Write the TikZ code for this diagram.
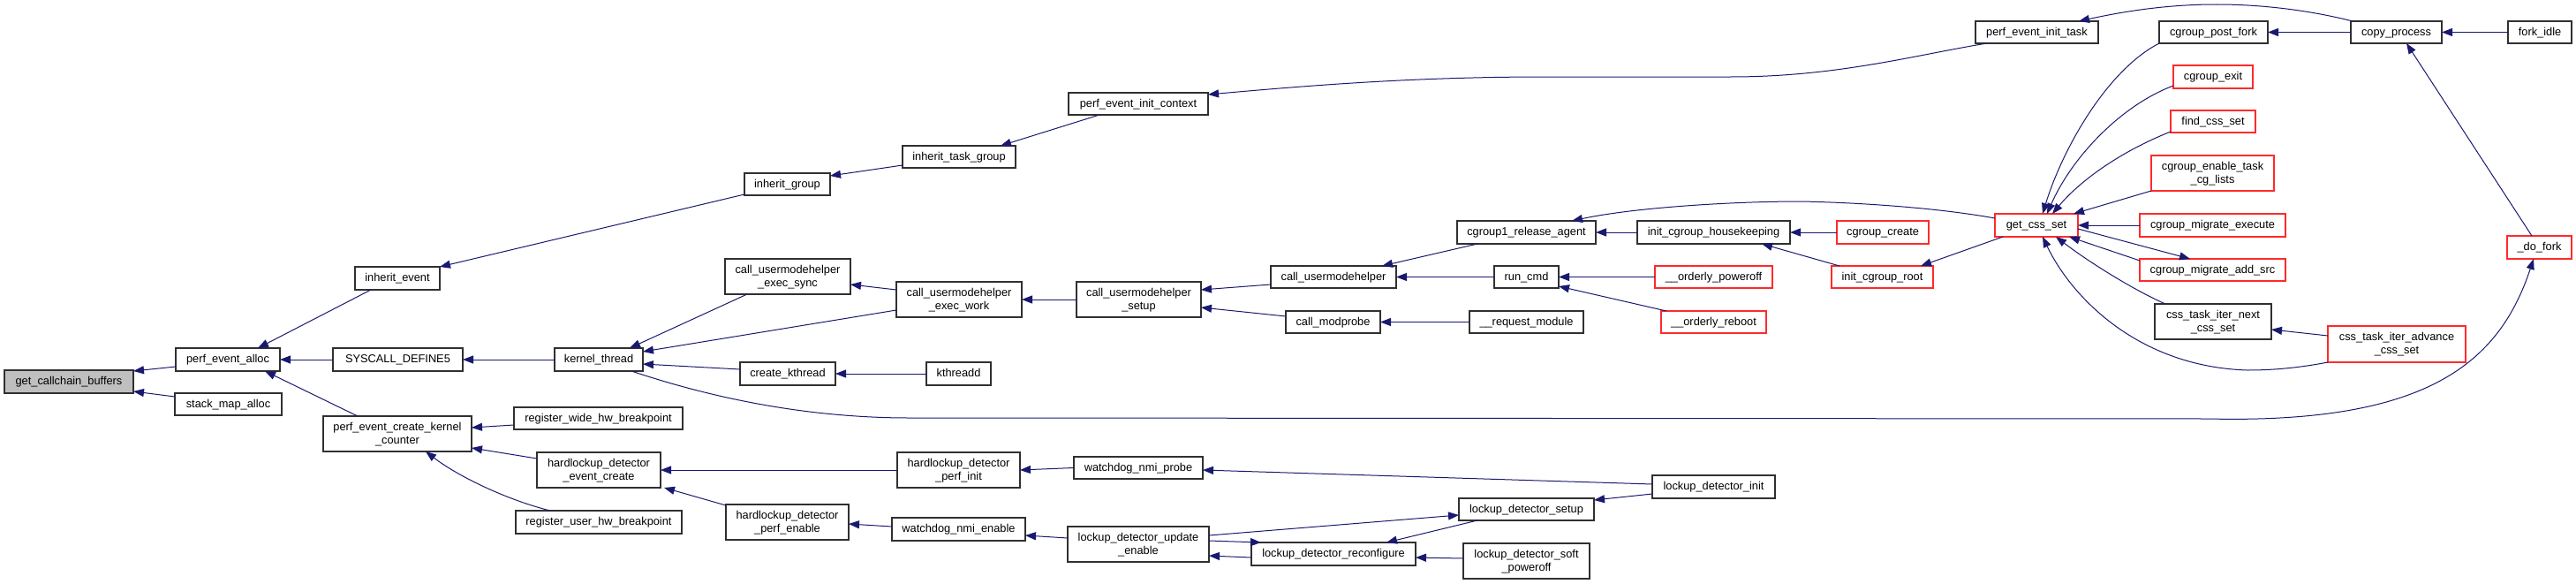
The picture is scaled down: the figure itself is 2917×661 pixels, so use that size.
\documentclass[tikz,border=0pt]{standalone}
\usepackage{fontspec}
\setmainfont{Liberation Sans}
\usetikzlibrary{arrows.meta,calc}
\definecolor{edgec}{HTML}{191970}
\definecolor{nodeb}{HTML}{303030}
\definecolor{nodered}{HTML}{FF2A2A}
\definecolor{rootgray}{HTML}{BFBFBF}
\tikzset{
  fbox/.style={draw=nodeb,line width=1.2pt,fill=white,inner sep=0pt,outer sep=0pt,
    align=center,text height=10pt,text depth=2.5pt,
    font=\fontsize{12.8}{15}\selectfont},
  two/.style={text height=25pt},
  rbox/.style={draw=nodered},
  root/.style={fill=rootgray},
  edge/.style={draw=edgec,line width=1pt,{Triangle[length=12pt,width=9pt]}-}
}
\newcommand\bx[7][]{\node[fbox,#1,minimum width={(#5-#3)*1pt},minimum height={(#6-#4)*1pt}] (#2) at ({(#3+#5)/2},{(#4+#6)/2}) {#7};}
\begin{document}
\begin{tikzpicture}[x=1pt,y=-1pt]
\useasboundingbox (0,0) rectangle (2917,661);
\bx[root]{gcb}{5}{419}{151}{445}{get\_callchain\_buffers}
\bx{pea}{199}{394}{317}{420}{perf\_event\_alloc}
\bx{sma}{198}{445}{319}{470}{stack\_map\_alloc}
\bx{ie}{402}{302}{498}{328}{inherit\_event}
\bx{sd}{377}{394}{524}{420}{SYSCALL\_DEFINE5}
\bx[two]{pecc}{366}{471}{534}{511}{perf\_event\_create\_kernel\\\_counter}
\bx{ig}{843}{196}{940}{221}{inherit\_group}
\bx[two]{cues}{821}{293}{963}{333}{call\_usermodehelper\\\_exec\_sync}
\bx{kt}{628}{394}{728}{420}{kernel\_thread}
\bx{ck}{838}{410}{946}{436}{create\_kthread}
\bx{rwhb}{582}{461}{773}{486}{register\_wide\_hw\_breakpoint}
\bx[two]{hdec}{608}{512}{748}{552}{hardlockup\_detector\\\_event\_create}
\bx{ruhb}{584}{578}{772}{604}{register\_user\_hw\_breakpoint}
\bx[two]{hdpe}{822}{571}{961}{611}{hardlockup\_detector\\\_perf\_enable}
\bx{peic}{1210}{105}{1368}{130}{perf\_event\_init\_context}
\bx{itg}{1022}{165}{1150}{190}{inherit\_task\_group}
\bx[two]{cuew}{1015}{319}{1157}{359}{call\_usermodehelper\\\_exec\_work}
\bx[two]{cus}{1219}{319}{1360}{359}{call\_usermodehelper\\\_setup}
\bx{cu}{1439}{301}{1581}{326}{call\_usermodehelper}
\bx{kthd}{1049}{410}{1122}{436}{kthreadd}
\bx[two]{hdpi}{1016}{512}{1155}{552}{hardlockup\_detector\\\_perf\_init}
\bx{wnp}{1216}{517}{1362}{542}{watchdog\_nmi\_probe}
\bx{wne}{1010}{586}{1161}{612}{watchdog\_nmi\_enable}
\bx[two]{ldue}{1209}{596}{1369}{636}{lockup\_detector\_update\\\_enable}
\bx{cm}{1456}{352}{1563}{377}{call\_modprobe}
\bx{ldr}{1417}{614}{1603}{640}{lockup\_detector\_reconfigure}
\bx{cra}{1650}{250}{1807}{276}{cgroup1\_release\_agent}
\bx{ich}{1854}{250}{2027}{276}{init\_cgroup\_housekeeping}
\bx{rc}{1692}{301}{1765}{326}{run\_cmd}
\bx[rbox]{op}{1874}{301}{2007}{326}{\_\_orderly\_poweroff}
\bx{rm}{1664}{352}{1793}{377}{\_\_request\_module}
\bx[rbox]{orb}{1881}{352}{2000}{377}{\_\_orderly\_reboot}
\bx{ldi}{1871}{538}{2010}{564}{lockup\_detector\_init}
\bx{lds}{1652}{564}{1805}{589}{lockup\_detector\_setup}
\bx[two]{ldsp}{1657}{615}{1800}{655}{lockup\_detector\_soft\\\_poweroff}
\bx{peit}{2237}{24}{2376}{49}{perf\_event\_init\_task}
\bx[rbox]{cc}{2080}{250}{2184}{276}{cgroup\_create}
\bx[rbox]{icr}{2074}{301}{2189}{326}{init\_cgroup\_root}
\bx[rbox]{gcs}{2259}{242}{2353}{268}{get\_css\_set}
\bx{cpf}{2445}{24}{2568}{49}{cgroup\_post\_fork}
\bx{cp}{2662}{24}{2765}{49}{copy\_process}
\bx{fi}{2840}{24}{2912}{49}{fork\_idle}
\bx[rbox]{ce}{2461}{74}{2551}{100}{cgroup\_exit}
\bx[rbox]{fcs}{2458}{125}{2554}{150}{find\_css\_set}
\bx[rbox,two]{cet}{2436}{176}{2575}{216}{cgroup\_enable\_task\\\_cg\_lists}
\bx[rbox]{cme}{2423}{242}{2588}{268}{cgroup\_migrate\_execute}
\bx[rbox]{cmas}{2423}{293}{2588}{318}{cgroup\_migrate\_add\_src}
\bx[rbox]{df}{2839}{267}{2912}{293}{\_do\_fork}
\bx[two]{ctin}{2440}{344}{2572}{384}{css\_task\_iter\_next\\\_css\_set}
\bx[rbox,two]{ctia}{2636}{369}{2792}{410}{css\_task\_iter\_advance\\\_css\_set}
% edges (arrow tip at first point)
\draw[edge] ($(gcb.north west)+(146,1)$) -- ($(pea.north west)+(0,21)$);
\draw[edge] ($(gcb.north west)+(146,24)$) -- ($(sma.north west)+(0,4)$);
\draw[edge] ($(pea.north west)+(93,0)$) -- ($(ie.north west)+(18,26)$);
\draw[edge] (pea.east) -- (sd.west);
\draw[edge] ($(pea.north west)+(101,26)$) -- ($(pecc.north west)+(39,0)$);
\draw[edge] ($(ie.north west)+(96,0)$) -- ($(ig.north west)+(0,24)$);
\draw[edge] ($(ig.north west)+(97,3)$) -- ($(itg.north west)+(0,22)$);
\draw[edge] ($(itg.north west)+(111,0)$) -- ($(peic.north west)+(35,25)$);
\draw[edge] ($(peic.north west)+(158,2)$) .. controls (1480,97) and (1600,87) .. (1750,87) -- (1960,87) .. controls (2080,87) and (2170,62) .. ($(peit.north west)+(13,25)$);
\draw[edge] ($(peit.north west)+(117,0)$) .. controls (2400,14) and (2450,5) .. (2510,5) .. controls (2570,5) and (2625,14) .. ($(cp.north west)+(2,0)$);
\draw[edge] (sd.east) -- (kt.west);
\draw[edge] ($(kt.north west)+(85,0)$) -- ($(cues.north west)+(25,40)$);
\draw[edge] ($(kt.north west)+(100,4)$) -- ($(cuew.north west)+(0,32)$);
\draw[edge] ($(kt.north west)+(100,18)$) -- ($(ck.north west)+(0,8)$);
\draw[edge] ($(df.north west)+(30,26)$) .. controls (2830,410) and (2750,480) .. (2500,474) -- (1030,473) .. controls (900,473) and (790,445) .. ($(kt.north west)+(87,26)$);
\draw[edge] ($(cues.north west)+(142,29)$) -- ($(cuew.north west)+(0,9)$);
\draw[edge] (cuew.east) -- (cus.west);
\draw[edge] ($(cus.north west)+(141,9)$) -- ($(cu.north west)+(0,21)$);
\draw[edge] ($(cus.north west)+(141,29)$) -- ($(cm.north west)+(0,6)$);
\draw[edge] (ck.east) -- (kthd.west);
\draw[edge] ($(cu.north west)+(126,0)$) -- ($(cra.north west)+(23,26)$);
\draw[edge] (cu.east) -- (rc.west);
\draw[edge] (cra.east) -- (ich.west);
\draw[edge] ($(cra.north west)+(130,0)$) .. controls (1850,235) and (1960,228) .. (2040,228) .. controls (2130,230) and (2210,238) .. ($(gcs.north west)+(0,5)$);
\draw[edge] (ich.east) -- (cc.west);
\draw[edge] ($(ich.north west)+(141,26)$) -- ($(icr.north west)+(9,0)$);
\draw[edge] ($(icr.north west)+(101,0)$) -- ($(gcs.north west)+(9,26)$);
\draw[edge] (rc.east) -- (op.west);
\draw[edge] ($(rc.north west)+(73,23)$) -- ($(orb.north west)+(6,0)$);
\draw[edge] (cm.east) -- (rm.west);
\draw[edge] ($(gcs.north west)+(54,0)$) .. controls (2335,170) and (2385,80) .. ($(cpf.north west)+(0,25)$);
\draw[edge] ($(gcs.north west)+(59,0)$) .. controls (2345,180) and (2400,120) .. ($(ce.north west)+(0,23)$);
\draw[edge] ($(gcs.north west)+(65,0)$) .. controls (2355,205) and (2400,172) .. ($(fcs.north west)+(0,24)$);
\draw[edge] ($(gcs.north west)+(89,0)$) -- ($(cet.north west)+(0,40)$);
\draw[edge] (gcs.east) -- (cme.west);
\draw[edge] ($(cmas.north west)+(57,0)$) -- ($(gcs.north west)+(94,17)$);
\draw[edge] ($(gcs.north west)+(84,26)$) -- ($(cmas.north west)+(0,2)$);
\draw[edge] ($(gcs.north west)+(69,26)$) .. controls (2370,300) and (2420,330) .. ($(ctin.north west)+(12,0)$);
\draw[edge] ($(gcs.north west)+(54,26)$) .. controls (2345,335) and (2420,415) .. (2545,419) .. controls (2580,419) and (2610,415) .. ($(ctia.north west)+(0,41)$);
\draw[edge] (cpf.east) -- (cp.west);
\draw[edge] (cp.east) -- (fi.west);
\draw[edge] ($(cp.north west)+(63,25)$) -- ($(df.north west)+(28,0)$);
\draw[edge] ($(ctin.north west)+(132,29)$) -- ($(ctia.north west)+(0,11)$);
\draw[edge] ($(pecc.north west)+(168,13)$) -- ($(rwhb.north west)+(0,20)$);
\draw[edge] ($(pecc.north west)+(168,36)$) -- ($(hdec.north west)+(0,7)$);
\draw[edge] ($(pecc.north west)+(116,40)$) .. controls (520,540) and (575,566) .. ($(ruhb.north west)+(39,0)$);
\draw[edge] (hdec.east) -- (hdpi.west);
\draw[edge] ($(hdec.north west)+(144,40)$) -- ($(hdpe.north west)+(0,1)$);
\draw[edge] (hdpi.east) -- (wnp.west);
\draw[edge] ($(wnp.north west)+(146,15)$) -- ($(ldi.north west)+(0,10)$);
\draw[edge] ($(hdpe.north west)+(139,22)$) -- ($(wne.north west)+(0,10)$);
\draw[edge] ($(wne.north west)+(151,20)$) -- ($(ldue.north west)+(0,13)$);
\draw[edge] ($(lds.north west)+(0,19)$) -- ($(ldue.north west)+(160,10)$);
\draw[edge] ($(ldr.north west)+(11,0)$) -- ($(ldue.north west)+(160,16)$);
\draw[edge] ($(ldue.north west)+(160,33)$) -- ($(ldr.north west)+(0,17)$);
\draw[edge] ($(ldr.north west)+(153,0)$) -- ($(lds.north west)+(21,25)$);
\draw[edge] ($(ldr.north west)+(186,17)$) -- ($(ldsp.north west)+(0,17)$);
\draw[edge] ($(lds.north west)+(153,2)$) -- ($(ldi.north west)+(0,21)$);
\end{tikzpicture}
\end{document}
